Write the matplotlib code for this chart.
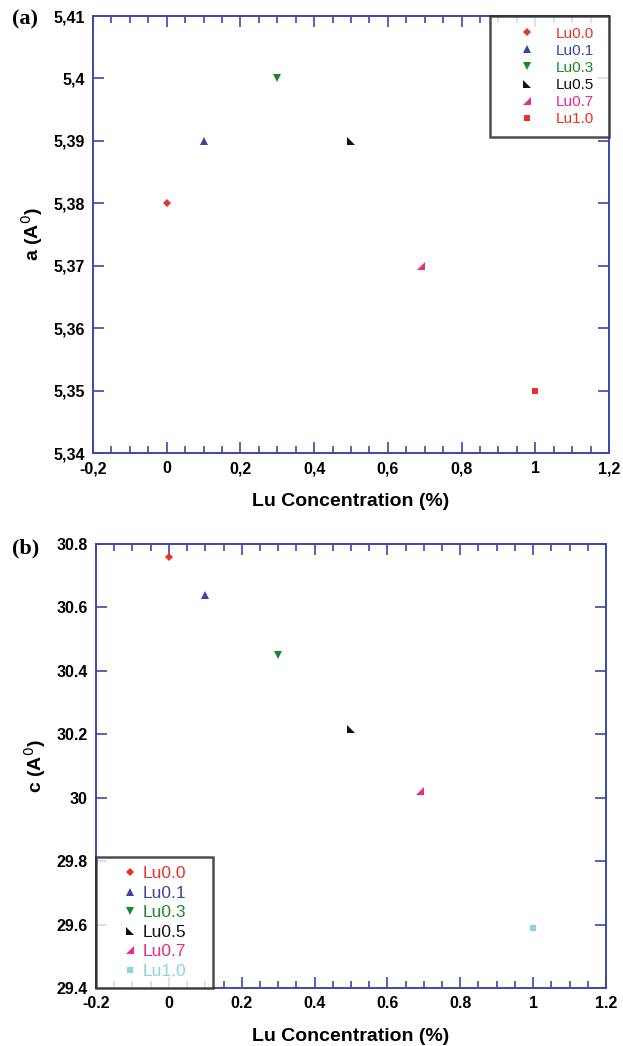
import matplotlib
matplotlib.use("Agg")
import matplotlib.pyplot as plt
from matplotlib.path import Path
from matplotlib.ticker import MultipleLocator

plt.rcParams['font.family'] = ['Liberation Sans', 'DejaVu Sans']

# ======================
# data
# ======================
labels = ["Lu0.0", "Lu0.1", "Lu0.3", "Lu0.5", "Lu0.7", "Lu1.0"]
conc = [0.0, 0.1, 0.3, 0.5, 0.69, 1.0]
a_vals = [5.38, 5.39, 5.40, 5.39, 5.37, 5.35]
c_vals = [30.76, 30.64, 30.45, 30.215, 30.02, 29.59]

a_yticks = [5.34, 5.35, 5.36, 5.37, 5.38, 5.39, 5.40, 5.41]
a_yticklabels = ["5,34", "5,35", "5,36", "5,37", "5,38", "5,39", "5,4", "5,41"]
a_xticklabels = ["-0,2", "0", "0,2", "0,4", "0,6", "0,8", "1", "1,2"]
c_yticks = [29.4, 29.6, 29.8, 30.0, 30.2, 30.4, 30.6, 30.8]
c_yticklabels = ["29.4", "29.6", "29.8", "30", "30.2", "30.4", "30.6", "30.8"]
c_xticklabels = ["-0.2", "0", "0.2", "0.4", "0.6", "0.8", "1", "1.2"]
xticks = [-0.2, 0, 0.2, 0.4, 0.6, 0.8, 1.0, 1.2]

# markers / colours
tri_ll = Path([(-1, 1), (-1, -1), (1, -1), (-1, 1)], closed=True)   # ◣
tri_lr = Path([(1, 1), (1, -1), (-1, -1), (1, 1)], closed=True)     # ◢
markers = ["D", "^", "v", tri_ll, tri_lr, "s"]
sizes = [4.5, 5.5, 5.5, 5.5, 5.5, 5]
colors_a = ["#e8332a", "#3b45a0", "#168a2a", "#111111", "#e62b8a", "#e8332a"]
colors_c = ["#e8332a", "#3b45a0", "#168a2a", "#111111", "#e62b8a", "#84d6df"]
spine_blue = "#3c48aa"

fig = plt.figure(figsize=(6.23, 10.46), dpi=100)
ax1 = fig.add_axes([0.1493, 0.5669, 0.8283, 0.4178])
ax2 = fig.add_axes([0.1541, 0.0555, 0.8186, 0.4245])


def style_axes(ax, yticks, yticklabels, xticklabels, ylim):
    ax.set_xlim(-0.2, 1.2)
    ax.set_ylim(*ylim)
    ax.set_xticks(xticks)
    ax.set_xticklabels(xticklabels)
    ax.xaxis.set_minor_locator(MultipleLocator(0.05))
    ax.set_yticks(yticks)
    ax.set_yticklabels(yticklabels)
    for s in ax.spines.values():
        s.set_color(spine_blue)
        s.set_linewidth(1.4)
    ax.tick_params(which="both", direction="in", top=True, right=True,
                   color=spine_blue, width=1.2)
    ax.tick_params(which="major", length=8, labelsize=11.5, pad=6)
    ax.tick_params(which="minor", length=5)
    for t in ax.get_xticklabels() + ax.get_yticklabels():
        t.set_fontweight("bold")
    ax.set_xlabel("Lu Concentration (%)", fontsize=14, fontweight="bold", labelpad=12)


def draw_points(ax, yvals, colors):
    for x, y, m, ms, col, lab in zip(conc, yvals, markers, sizes, colors, labels):
        ax.plot([x], [y], linestyle="none", marker=m, ms=ms, color=col,
                markeredgewidth=0, label=lab)


def style_legend(leg):
    leg.get_frame().set_edgecolor("#222222")
    leg.get_frame().set_linewidth(1.8)


# ======================
# (a)
# ======================
draw_points(ax1, a_vals, colors_a)
style_axes(ax1, a_yticks, a_yticklabels, a_xticklabels, (5.34, 5.41))
ax1.set_ylabel(r"a (A$^{0}$)", fontsize=14, fontweight="bold", labelpad=6)
leg1 = ax1.legend(loc="upper right", bbox_to_anchor=(0.769, 0.732, 0.231, 0.268),
                  mode="expand", fontsize=11, frameon=True, fancybox=False,
                  borderaxespad=0, borderpad=0.7, labelspacing=0.2,
                  handlelength=3.4, handletextpad=0.22,
                  labelcolor="markerfacecolor")
style_legend(leg1)
fig.text(0.019, 0.981, "(a)", fontsize=16, fontweight="bold",
         family="Liberation Serif", va="center")

# ======================
# (b)
# ======================
draw_points(ax2, c_vals, colors_c)
style_axes(ax2, c_yticks, c_yticklabels, c_xticklabels, (29.4, 30.8))
ax2.set_ylabel(r"c (A$^{0}$)", fontsize=14, fontweight="bold", labelpad=6)
leg2 = ax2.legend(loc="lower left", bbox_to_anchor=(0, 0, 0.229, 0.30),
                  mode="expand", fontsize=12.5, frameon=True, fancybox=False,
                  borderaxespad=0, borderpad=0.52, labelspacing=0.25,
                  handlelength=2.88, handletextpad=-0.69,
                  labelcolor="markerfacecolor")
style_legend(leg2)
fig.text(0.019, 0.476, "(b)", fontsize=16, fontweight="bold",
         family="Liberation Serif", va="center")

plt.savefig("out.png", dpi=100)
